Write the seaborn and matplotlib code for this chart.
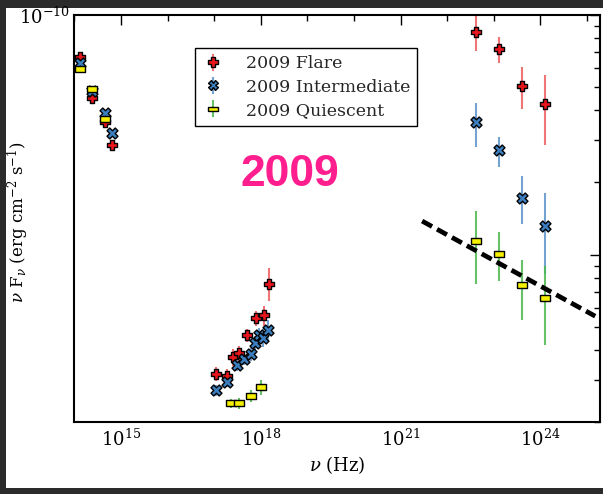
import matplotlib
matplotlib.use("Agg")
import matplotlib.pyplot as plt
import seaborn as sns
import numpy as np
import pandas as pd
from matplotlib.patches import Rectangle
from matplotlib.lines import Line2D

# ---------------- data ----------------
flare_nu = [1.35e14, 2.39e14, 4.65e14, 6.57e14,
            1.12e17, 1.90e17, 2.56e17, 3.39e17, 4.95e17, 7.85e17, 1.17e18, 1.52e18,
            4.06e22, 1.28e23, 4.00e23, 1.27e24]
flare_F = [6.70e-11, 4.52e-11, 3.56e-11, 2.87e-11,
           3.18e-12, 3.12e-12, 3.73e-12, 3.87e-12, 4.61e-12, 5.41e-12, 5.57e-12, 7.57e-12,
           8.51e-11, 7.20e-11, 5.06e-11, 4.26e-11]
flare_err = [0, 0, 0, 0,
             0.2e-12, 0.2e-12, 0.3e-12, 0.3e-12, 0.3e-12, 0.4e-12, 0.55e-12, 1.2e-12,
             1.41e-11, 0.92e-11, 1.0e-11, 1.38e-11]

inter_nu = [1.35e14, 2.39e14, 4.65e14, 6.57e14,
            1.12e17, 1.90e17, 3.03e17, 4.41e17, 6.04e17, 7.48e17, 9.25e17, 1.13e18, 1.44e18,
            4.06e22, 1.28e23, 4.00e23, 1.27e24]
inter_F = [6.30e-11, 4.82e-11, 3.89e-11, 3.21e-11,
           2.71e-12, 2.94e-12, 3.45e-12, 3.65e-12, 3.83e-12, 4.28e-12, 4.60e-12, 4.50e-12, 4.82e-12,
           3.56e-11, 2.72e-11, 1.73e-11, 1.32e-11]
inter_err = [0, 0, 0, 0,
             0.15e-12, 0.15e-12, 0.2e-12, 0.2e-12, 0.25e-12, 0.3e-12, 0.35e-12, 0.4e-12, 0.5e-12,
             0.75e-11, 0.39e-11, 0.39e-11, 0.49e-11]

quies_nu = [1.35e14, 2.39e14, 4.65e14,
            2.28e17, 3.44e17, 6.04e17, 9.91e17,
            4.06e22, 1.28e23, 4.00e23, 1.27e24]
quies_F = [5.94e-11, 4.90e-11, 3.69e-11,
           2.39e-12, 2.39e-12, 2.57e-12, 2.80e-12,
           1.136e-11, 1.007e-11, 7.43e-12, 6.58e-12]
quies_err = [0, 0, 0,
             0.1e-12, 0.12e-12, 0.15e-12, 0.2e-12,
             0.38e-11, 0.23e-11, 0.21e-11, 0.24e-11]

line_nu = [2.9e21, 1.5e25]
line_F = [1.38e-11, 5.53e-12]

labels = ["2009 Flare", "2009 Intermediate", "2009 Quiescent"]
big_label = "2009"

# ---------------- style ----------------
sns.set_theme(style="white")
plt.rcParams['font.family'] = ['DejaVu Serif']
plt.rcParams['mathtext.fontset'] = 'dejavuserif'

fig = plt.figure(figsize=(6.03, 4.94), dpi=100, facecolor='#2b2b2b')
bg = Rectangle((6 / 603, 6 / 494), 597 / 603, 480 / 494,
               transform=fig.transFigure, facecolor='white',
               edgecolor='none', zorder=-10)
fig.patches.append(bg)
ax = fig.add_axes([74.3 / 603, (494 - 422) / 494, (600 - 74.3) / 603, (422 - 15) / 494])
ax.set_zorder(1)
ax.set_facecolor('white')

rect_marker = [(-1, -0.5), (1, -0.5), (1, 0.5), (-1, 0.5), (-1, -0.5)]

series = [
    (flare_nu, flare_F, flare_err, 'P', '#e8161c', '#ee5a5e', 62),
    (inter_nu, inter_F, inter_err, 'X', '#3b7fc0', '#5b93cc', 62),
    (quies_nu, quies_F, quies_err, rect_marker, '#f4f000', '#4cb84c', 62),
]

handles = []
for (nu, F, err, mk, fc, ec, s), lab in zip(series, labels):
    eb = ax.errorbar(nu, F, yerr=err, fmt='none', ecolor=ec, elinewidth=1.5,
                     alpha=0.85, zorder=2)
    df = pd.DataFrame({'nu': nu, 'F': F})
    sns.scatterplot(data=df, x='nu', y='F', marker=mk, s=s, color=fc,
                    edgecolor='black', linewidth=1.0, ax=ax, zorder=3, legend=False)
    mh = Line2D([], [], linestyle='none', marker=mk, markersize=7,
                markerfacecolor=fc, markeredgecolor='black', markeredgewidth=1.0)
    handles.append((eb, mh))

ldf = pd.DataFrame({'nu': line_nu, 'F': line_F})
sns.lineplot(data=ldf, x='nu', y='F', color='black', linewidth=3.4, ax=ax, zorder=4)
ax.lines[-1].set_dashes((2.4, 1.2))

ax.set_xscale('log')
ax.set_yscale('log')
ax.set_xlim(1e14, 1.9e25)
ax.set_ylim(2e-12, 1e-10)

ax.set_xticks([1e15, 1e18, 1e21, 1e24])
ax.set_xticklabels([r'$10^{15}$', r'$10^{18}$', r'$10^{21}$', r'$10^{24}$'])
ax.set_xticks([10.0 ** k for k in range(14, 26)], minor=True)
ax.xaxis.set_minor_formatter(matplotlib.ticker.NullFormatter())
ax.set_yticks([1e-11, 1e-10])
ax.set_yticklabels(['', r'$10^{-10}$'])
ax.set_yticks([m * 10.0 ** e for e in (-12, -11) for m in range(2, 10)], minor=True)
ax.yaxis.set_minor_formatter(matplotlib.ticker.NullFormatter())

ax.tick_params(which='both', direction='in', top=True, right=True, colors='black',
               labelsize=13)
ax.tick_params(which='major', length=7, width=1.0)
ax.tick_params(which='minor', length=4, width=1.0)
ax.tick_params(axis='x', pad=5)
for sp in ax.spines.values():
    sp.set_color('black')
    sp.set_linewidth(1.5)

ax.set_xlabel(r'$\nu$ (Hz)', fontsize=13, color='black', labelpad=3)
ax.set_ylabel(r'$\nu$ F$_\nu$ (erg cm$^{-2}$ s$^{-1}$)', fontsize=12, color='black')
ax.yaxis.set_label_coords(-0.083, 0.49)

leg = ax.legend(handles=handles, labels=labels, loc='upper left',
                bbox_to_anchor=(0.2296, 0.919), borderaxespad=0, fontsize=12.5,
                frameon=True, fancybox=False, edgecolor='black', framealpha=1,
                handlelength=1.2, handletextpad=1.3, labelspacing=0.36,
                borderpad=0.42)
leg.get_frame().set_linewidth(1.0)

ax.text(0.411, 0.607, big_label, transform=ax.transAxes, ha='center', va='center',
        fontsize=32, fontweight='bold', color='#ff1e8e', family='Liberation Sans')

fig.savefig('out.png', dpi=100, facecolor=fig.get_facecolor())
